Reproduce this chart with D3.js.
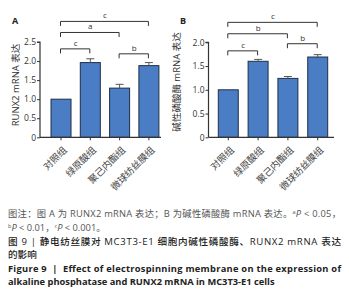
<!DOCTYPE html>
<html><head><meta charset="utf-8">
<script src="https://cdn.jsdelivr.net/npm/d3@7/dist/d3.min.js"></script>
<style>
html,body{margin:0;padding:0;background:#fff;}
svg{display:block;}
</style></head>
<body>
<svg id="c" width="349" height="303"></svg>
<script>
const categories = ["对照组", "绿原酸组", "聚己内酯组", "微球纺丝膜组"];
const runx2Values = [1.0, 1.96, 1.29, 1.88];
const runx2Errors = [0.0, 0.10, 0.10, 0.08];
const alpValues = [1.0, 1.60, 1.24, 1.69];
const alpErrors = [0.0, 0.04, 0.04, 0.05];
const runx2Ticks = [0, 0.5, 1.0, 1.5, 2.0, 2.5];
const alpTicks = [0, 0.5, 1.0, 1.5, 2.0];
const runx2Brackets = [[0, 3, "c", 3.04], [0, 2, "a", 2.75], [0, 1, "c", 2.32], [2, 3, "b", 2.19]];
const alpBrackets = [[0, 3, "c", 2.42], [0, 2, "b", 2.18], [0, 1, "c", 1.82], [2, 3, "b", 1.97]];
const captionLines = [
  "图注：图 A 为 RUNX2 mRNA 表达；B 为碱性磷酸酶 mRNA 表达。",
  "P < 0.01，",
  "图 9 | 静电纺丝膜对 MC3T3-E1 细胞内碱性磷酸酶、RUNX2 mRNA 表达",
  "的影响",
  "Figure 9  |  Effect of electrospinning membrane on the expression of",
  "alkaline phosphatase and RUNX2 mRNA in MC3T3-E1 cells"
];

const svg = d3.select("#c");
const FONT = "'Open Sans','Noto Sans CJK SC',sans-serif";

function panel(cfg) {
  const g = svg.append("g");
  const y = d3.scaleLinear().domain([0, cfg.ymax]).range([137.3, cfg.ytop]);
  const x = d3.scaleBand().domain(categories).range(cfg.xr).paddingInner(cfg.pad).paddingOuter(0);
  const bw = x.bandwidth();
  const ya = g.append("g").attr("transform", `translate(${cfg.ax},0)`)
    .call(d3.axisLeft(y).tickValues(cfg.ticks).tickSize(3).tickFormat(d => d === 0 ? "0" : d3.format(".1f")(d)));
  ya.select(".domain").attr("stroke", "#333").attr("stroke-width", 1.2).attr("d", `M-3,${cfg.ytop}H0V137.3`);
  ya.selectAll(".tick line").attr("stroke", "#333");
  ya.selectAll(".tick text").attr("font-family", FONT).attr("font-size", 8.5).attr("fill", "#333").attr("x", -4);
  g.selectAll("rect.bar").data(cfg.values).enter().append("rect")
    .attr("x", (d, i) => x(categories[i])).attr("width", bw)
    .attr("y", d => y(d)).attr("height", d => y(0) - y(d))
    .attr("fill", "#4a7dc4").attr("stroke", "#1e2f48").attr("stroke-width", 1);
  const eb = g.selectAll("g.eb").data(cfg.values.map((v, i) => ({v, e: cfg.errors[i], i}))).enter()
    .filter(d => d.e > 0).append("g");
  eb.append("line").attr("x1", d => x(categories[d.i]) + bw / 2).attr("x2", d => x(categories[d.i]) + bw / 2)
    .attr("y1", d => y(d.v)).attr("y2", d => y(d.v + d.e)).attr("stroke", "#555").attr("stroke-width", 1);
  eb.append("line").attr("x1", d => x(categories[d.i]) + bw / 2 - 4).attr("x2", d => x(categories[d.i]) + bw / 2 + 4)
    .attr("y1", d => y(d.v + d.e)).attr("y2", d => y(d.v + d.e)).attr("stroke", "#555").attr("stroke-width", 1);
  const xa = g.append("g").attr("transform", "translate(0,137.3)")
    .call(d3.axisBottom(x).tickSize(3).tickSizeOuter(0));
  xa.select(".domain").attr("stroke", "#333").attr("stroke-width", 1.2).attr("d", `M${cfg.ax},0H${cfg.xend}`);
  xa.selectAll(".tick line").attr("stroke", "#333");
  xa.selectAll(".tick text").attr("font-family", FONT).attr("font-size", 9.5).attr("fill", "#444")
    .attr("text-anchor", "end").attr("y", 0).attr("dy", "0.35em").attr("transform", "translate(4,11) rotate(-45)");
  const bk = g.selectAll("g.bk").data(cfg.brackets).enter().append("g");
  const cx = i => x(categories[i]) + bw / 2;
  bk.append("path").attr("fill", "none").attr("stroke", "#333").attr("stroke-width", 1)
    .attr("d", d => `M${cx(d[0]) - 0.5},${y(d[3]) + 4.5}V${y(d[3])}H${cx(d[1]) - 0.5}V${y(d[3]) + 4.5}`);
  bk.append("text").attr("x", d => (cx(d[0]) + cx(d[1])) / 2).attr("y", d => y(d[3]) - 3)
    .attr("text-anchor", "middle").attr("font-family", FONT).attr("font-size", 8).attr("fill", "#333").text(d => d[2]);
  g.append("text").attr("x", cfg.lx).attr("y", 24).attr("font-family", FONT).attr("font-weight", "bold")
    .attr("font-size", 9).attr("fill", "#222").text(cfg.label);
  g.append("text").attr("transform", `translate(${cfg.ylx},${cfg.yly}) rotate(-90)`).attr("text-anchor", "middle")
    .attr("font-family", FONT).attr("font-size", 9.5).attr("fill", "#333").text(cfg.ylabel);
}

panel({values: runx2Values, errors: runx2Errors, ticks: runx2Ticks, brackets: runx2Brackets, ymax: 2.5, ytop: 42,
  xr: [51, 158.9], pad: 0.317, ax: 40, xend: 161, label: "A", lx: 12, ylx: 19, yly: 85, ylabel: "RUNX2 mRNA 表达"});
panel({values: alpValues, errors: alpErrors, ticks: alpTicks, brackets: alpBrackets, ymax: 2.0, ytop: 42.3,
  xr: [218.3, 327.7], pad: 0.33, ax: 208.5, xend: 334, label: "B", lx: 180, ylx: 180, yly: 82, ylabel: "碱性磷酸酶 mRNA 表达"});

const cap = svg.append("g").attr("font-family", FONT);
const ys = [217, 230.5, 244.5, 257.5, 271.5, 285];
const l1 = cap.append("text").attr("x", 8).attr("y", ys[0]).attr("font-size", 9.3).attr("fill", "#555")
  .attr("textLength", 333).attr("lengthAdjust", "spacing");
l1.append("tspan").text(captionLines[0]);
l1.append("tspan").attr("font-size", 5.5).attr("dy", -3).text("a");
l1.append("tspan").attr("font-style", "italic").attr("dy", 3).text("P");
l1.append("tspan").text(" < 0.05，");
const l2 = cap.append("text").attr("x", 8).attr("y", ys[1]).attr("font-size", 9.3).attr("fill", "#555");
l2.append("tspan").attr("font-size", 5.5).attr("dy", -3).text("b");
l2.append("tspan").attr("font-style", "italic").attr("dy", 3).text("P");
l2.append("tspan").text(" < 0.01，");
l2.append("tspan").attr("font-size", 5.5).attr("dy", -3).text("c");
l2.append("tspan").attr("font-style", "italic").attr("dy", 3).text("P");
l2.append("tspan").text(" < 0.001。");
cap.append("text").attr("x", 8).attr("y", ys[2]).attr("font-size", 9.6).attr("fill", "#222").attr("font-weight", 500)
  .attr("textLength", 333).attr("lengthAdjust", "spacing").text(captionLines[2]);
cap.append("text").attr("x", 8).attr("y", ys[3]).attr("font-size", 9.6).attr("fill", "#222").attr("font-weight", 500)
  .text(captionLines[3]);
cap.append("text").attr("x", 8).attr("y", ys[4]).attr("font-size", 9.3).attr("fill", "#222").attr("font-weight", "bold")
  .attr("textLength", 333).attr("lengthAdjust", "spacing").style("white-space", "pre").text(captionLines[4]);
cap.append("text").attr("x", 8).attr("y", ys[5]).attr("font-size", 9.3).attr("fill", "#222").attr("font-weight", "bold")
  .text(captionLines[5]);
</script>
</body></html>
